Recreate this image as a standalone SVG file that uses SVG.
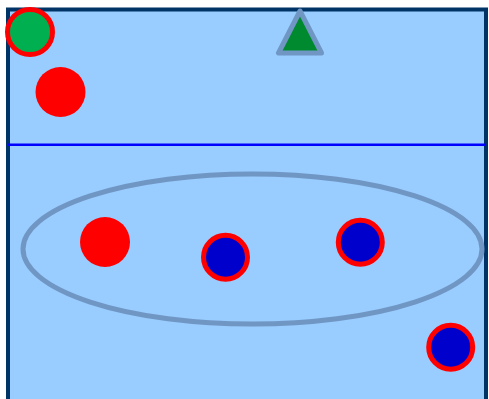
<svg xmlns="http://www.w3.org/2000/svg" width="489" height="399" viewBox="0 0 489 399">
<style>
.field{fill:#99ccff;stroke:#003366;stroke-width:4}
.mid{stroke:#0000ff;stroke-width:2.5}
.zone{fill:none;stroke:#7096c4;stroke-width:5}
.red{fill:#ff0000}
.blue{fill:#0000cc;stroke:#ff0000;stroke-width:5}
.green{fill:#00b050;stroke:#ff0000;stroke-width:5}
.tri{fill:#008a30;stroke:#7096c4;stroke-width:5;stroke-linejoin:round}
</style>
<rect class="field" x="8" y="9.5" width="478" height="400"/>
<line class="mid" x1="8" y1="144.7" x2="486" y2="144.7"/>
<ellipse class="zone" cx="252.5" cy="249" rx="229.5" ry="75"/>
<g id="p1"><circle class="green" cx="30" cy="32" r="22.5"/></g>
<g id="p2"><circle class="red" cx="60.5" cy="92" r="25"/></g>
<g id="p3"><polygon class="tri" points="300,11 278.5,53 321.5,53"/></g>
<g id="p4"><circle class="red" cx="105" cy="242" r="25"/></g>
<g id="p5"><circle class="blue" cx="225.5" cy="257.3" r="22"/></g>
<g id="p6"><circle class="blue" cx="360.3" cy="242.3" r="22"/></g>
<g id="p7"><circle class="blue" cx="450.7" cy="347.3" r="22"/></g>
<g id="connectors"></g>
</svg>
